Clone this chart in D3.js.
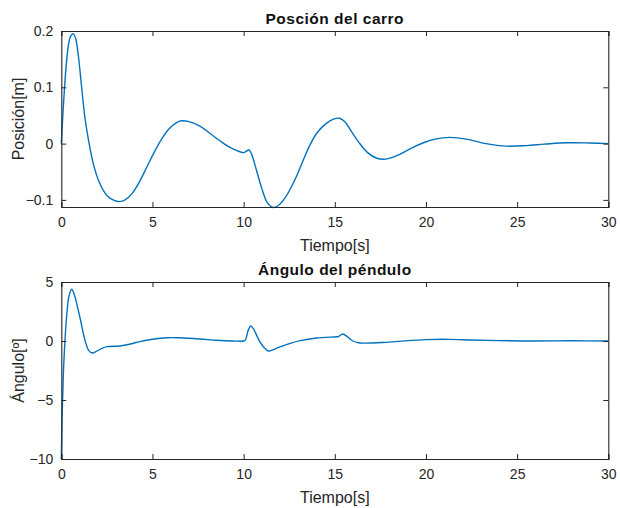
<!DOCTYPE html>
<html>
<head>
<meta charset="utf-8">
<script src="https://cdn.jsdelivr.net/npm/d3@7"></script>
<style>
  html, body { margin: 0; padding: 0; background: #fff; }
  svg { display: block; font-family: "Liberation Sans", Arial, Helvetica, sans-serif; }
</style>
</head>
<body>
<svg id="fig" width="620" height="508"></svg>
<script>
// Respuesta del sistema carro-péndulo (simulación de 30 s)
const tiempoCarro = [0, 0.1, 0.2, 0.3, 0.4, 0.5, 0.66, 0.8, 0.95, 1.1, 1.3, 1.5, 1.75, 2.1, 2.5, 2.9, 3.2, 3.5, 3.9, 4.3, 4.7, 5.1, 5.5, 5.9, 6.3, 6.6, 7.0, 7.6, 8.2, 8.7, 9.2, 9.6, 10.0, 10.15, 10.3, 10.45, 10.7, 11.0, 11.3, 11.6, 11.9, 12.3, 12.8, 13.2, 13.6, 14.0, 14.5, 14.9, 15.25, 15.55, 15.9, 16.3, 16.8, 17.3, 17.8, 18.5, 19.2, 19.9, 20.5, 21.3, 22.2, 23.3, 24.4, 25.5, 26.5, 27.7, 29.0, 30.0];
const posicionCarro = [0, 0.06, 0.11, 0.15, 0.177, 0.19, 0.195, 0.185, 0.152, 0.105, 0.045, 0.005, -0.035, -0.07, -0.092, -0.101, -0.103, -0.1, -0.088, -0.067, -0.041, -0.015, 0.008, 0.026, 0.037, 0.0405, 0.039, 0.031, 0.017, 0.005, -0.006, -0.012, -0.016, -0.0135, -0.011, -0.02, -0.047, -0.08, -0.105, -0.1135, -0.11, -0.095, -0.065, -0.035, -0.005, 0.018, 0.035, 0.043, 0.045, 0.039, 0.022, 0.003, -0.016, -0.026, -0.0275, -0.02, -0.008, 0.002, 0.008, 0.011, 0.008, 0.0, -0.0045, -0.0035, -0.001, 0.0015, 0.001, 0.0];

const tiempoPendulo = [0, 0.06, 0.12, 0.2, 0.3, 0.42, 0.57, 0.72, 0.9, 1.05, 1.2, 1.35, 1.5, 1.7, 1.9, 2.2, 2.5, 3.2, 3.8, 4.3, 5.0, 5.8, 6.5, 7.6, 8.5, 9.4, 10.0, 10.1, 10.25, 10.39, 10.55, 10.8, 11.08, 11.38, 11.6, 12.0, 12.55, 13.1, 14.0, 15.1, 15.2, 15.43, 15.7, 16.0, 16.3, 16.6, 17.6, 18.5, 20.0, 21.3, 22.5, 24.0, 26.0, 28.0, 30.0];
const anguloPendulo = [-10, -5.5, -2.5, 0, 2.2, 3.8, 4.38, 3.9, 2.8, 1.8, 0.7, -0.2, -0.8, -1.02, -0.9, -0.65, -0.48, -0.42, -0.25, -0.05, 0.15, 0.28, 0.27, 0.17, 0.06, 0.0, 0.0, 0.1, 0.9, 1.27, 1.0, 0.2, -0.48, -0.85, -0.75, -0.5, -0.2, 0.03, 0.25, 0.36, 0.38, 0.59, 0.35, 0.0, -0.15, -0.18, -0.13, -0.03, 0.12, 0.14, 0.08, 0.03, 0.0, 0.02, 0.0];

const ticksTiempo = [0, 5, 10, 15, 20, 25, 30];
const ticksPosicion = [-0.1, 0, 0.1, 0.2];
const ticksAngulo = [-10, -5, 0, 5];

const titulos = ["Posción del carro", "Ángulo del péndulo"];
const etiquetasY = ["Posición[m]", "Ángulo[º]"];
const etiquetaX = "Tiempo[s]";

const svg = d3.select("#fig");
svg.append("rect").attr("width", 620).attr("height", 508).attr("fill", "#fff");

const ejeColor = "#262626";
const lineaColor = "#0072BD";

function panel(cfg) {
  const { top, bottom, xs, ys, yDomain, yTicks, titulo, etiquetaY, yFmt } = cfg;
  const left = 61.3, right = 608.3;
  const x = d3.scaleLinear().domain([0, 30]).range([left, right]);
  const y = d3.scaleLinear().domain(yDomain).range([bottom, top]);
  const g = svg.append("g");

  // curva
  const pts = xs.map((t, i) => [t, ys[i]]);
  g.append("path")
    .datum(pts)
    .attr("fill", "none")
    .attr("stroke", lineaColor)
    .attr("stroke-width", 1.4)
    .attr("stroke-linejoin", "round")
    .attr("d", d3.line().x(d => x(d[0])).y(d => y(d[1])).curve(d3.curveCatmullRom.alpha(0.5)));

  // ejes con marcas hacia dentro (caja cerrada)
  const tk = 5;
  const axB = d3.axisBottom(x).tickValues(ticksTiempo).tickSize(-tk).tickPadding(10).tickFormat(d3.format("d"));
  const axT = d3.axisTop(x).tickValues(ticksTiempo).tickSize(-tk).tickFormat("");
  const axL = d3.axisLeft(y).tickValues(yTicks).tickSize(-tk).tickPadding(8).tickFormat(yFmt);
  const axR = d3.axisRight(y).tickValues(yTicks).tickSize(-tk).tickFormat("");

  const gb = g.append("g").attr("transform", `translate(0,${bottom})`).call(axB);
  const gt = g.append("g").attr("transform", `translate(0,${top})`).call(axT);
  const gl = g.append("g").attr("transform", `translate(${left},0)`).call(axL);
  const gr = g.append("g").attr("transform", `translate(${right},0)`).call(axR);
  [gb, gt, gl, gr].forEach(a => {
    a.select(".domain").attr("stroke", ejeColor).attr("stroke-width", 1.1);
    a.selectAll(".tick line").attr("stroke", ejeColor).attr("stroke-width", 1);
    a.selectAll(".tick text").attr("fill", ejeColor).style("font-size", "14px")
      .style("font-family", "'Liberation Sans', Arial, sans-serif");
  });
  gb.selectAll(".tick text").attr("dy", "0.71em");

  // título
  g.append("text")
    .attr("x", (left + right) / 2).attr("y", top - 7.5)
    .attr("text-anchor", "middle")
    .style("font-size", "15.5px").style("font-weight", "bold")
    .style("letter-spacing", "0.5px")
    .attr("fill", "#111")
    .text(titulo);

  // etiqueta x
  g.append("text")
    .attr("x", (left + right) / 2).attr("y", bottom + 44)
    .attr("text-anchor", "middle")
    .style("font-size", "16px")
    .attr("fill", ejeColor)
    .text(etiquetaX);

  // etiqueta y
  g.append("text")
    .attr("transform", `translate(24,${(top + bottom) / 2}) rotate(-90)`)
    .attr("text-anchor", "middle")
    .style("font-size", "16px")
    .attr("fill", ejeColor)
    .text(etiquetaY);
}

panel({
  top: 31, bottom: 207,
  xs: tiempoCarro, ys: posicionCarro,
  yDomain: [-0.1126, 0.2], yTicks: ticksPosicion,
  titulo: titulos[0], etiquetaY: etiquetasY[0],
  yFmt: d => d === 0 ? "0" : d3.format(".1f")(d)
});

panel({
  top: 282, bottom: 459,
  xs: tiempoPendulo, ys: anguloPendulo,
  yDomain: [-10, 5], yTicks: ticksAngulo,
  titulo: titulos[1], etiquetaY: etiquetasY[1],
  yFmt: d3.format("d")
});
</script>
</body>
</html>
